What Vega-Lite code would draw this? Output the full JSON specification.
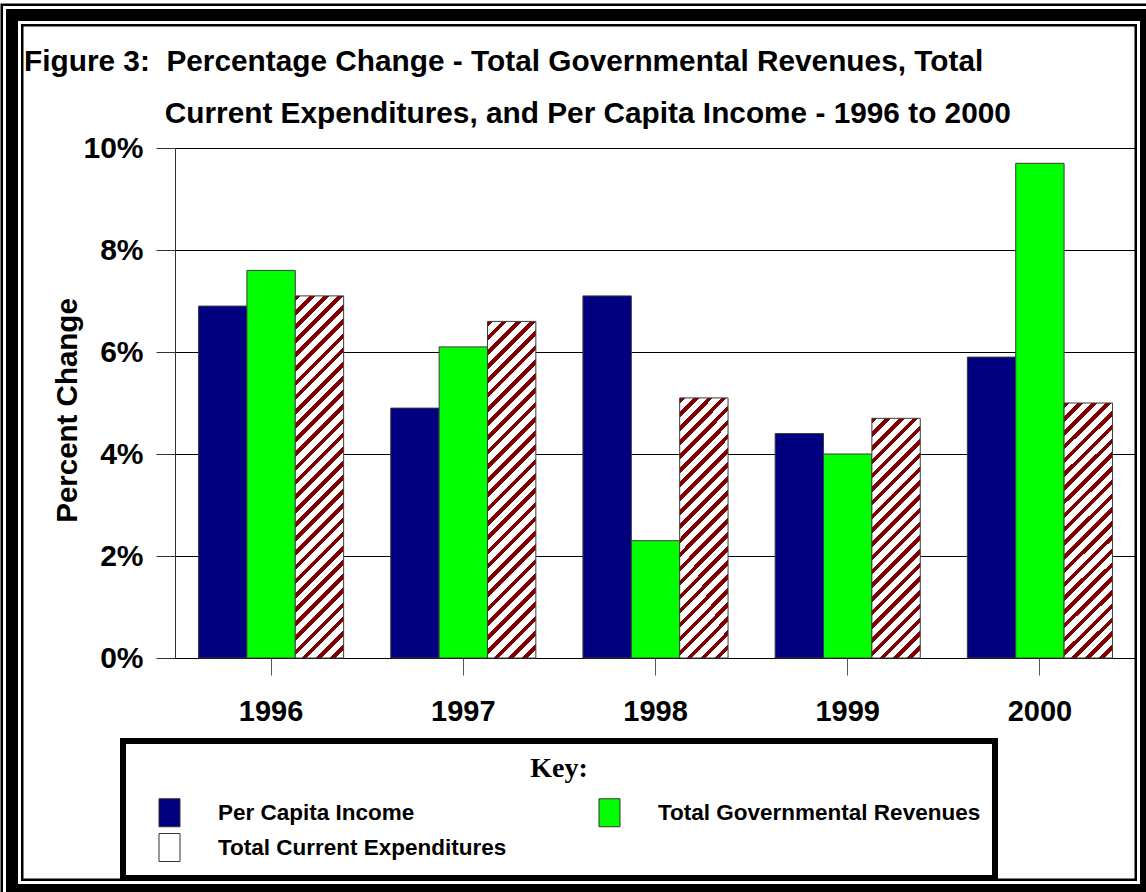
{
  "$schema": "https://vega.github.io/schema/vega-lite/v6.json",
  "width": 1134,
  "height": 875,
  "padding": {"left": 12, "top": 15, "right": 0, "bottom": 2},
  "autosize": {"type": "none"},
  "background": "white",
  "config": {
    "view": {"stroke": "black", "strokeWidth": 23, "fill": "white"},
    "font": "Liberation Sans",
    "axis": {"labelColor": "black", "titleColor": "black", "labelFont": "Liberation Sans", "titleFont": "Liberation Sans"}
  },
  "title": {
    "text": ["Figure 3:\u00a0 Percentage Change - Total Governmental Revenues, Total", "\u200b\u00a0\u00a0\u00a0\u00a0\u00a0\u00a0\u00a0\u00a0\u00a0\u00a0\u00a0\u00a0\u00a0\u00a0\u00a0\u00a0\u00a0Current Expenditures, and Per Capita Income - 1996 to 2000"],
    "anchor": "start",
    "frame": "group",
    "orient": "top",
    "offset": 0,
    "dx": 12,
    "dy": 123,
    "font": "Liberation Sans",
    "fontSize": 29.8,
    "fontWeight": "bold",
    "color": "black",
    "lineHeight": 52
  },
  "data": {
    "values": [
      {"year": "1996", "series": "Per Capita Income", "value": 6.9},
      {"year": "1996", "series": "Total Governmental Revenues", "value": 7.6},
      {"year": "1996", "series": "Total Current Expenditures", "value": 7.1},
      {"year": "1997", "series": "Per Capita Income", "value": 4.9},
      {"year": "1997", "series": "Total Governmental Revenues", "value": 6.1},
      {"year": "1997", "series": "Total Current Expenditures", "value": 6.6},
      {"year": "1998", "series": "Per Capita Income", "value": 7.1},
      {"year": "1998", "series": "Total Governmental Revenues", "value": 2.3},
      {"year": "1998", "series": "Total Current Expenditures", "value": 5.1},
      {"year": "1999", "series": "Per Capita Income", "value": 4.4},
      {"year": "1999", "series": "Total Governmental Revenues", "value": 4.0},
      {"year": "1999", "series": "Total Current Expenditures", "value": 4.7},
      {"year": "2000", "series": "Per Capita Income", "value": 5.9},
      {"year": "2000", "series": "Total Governmental Revenues", "value": 9.7},
      {"year": "2000", "series": "Total Current Expenditures", "value": 5.0}
    ]
  },
  "layer": [
    {
      "data": {"values": [{}]},
      "mark": {"type": "rect", "fill": "transparent", "stroke": "white", "strokeWidth": 18},
      "encoding": {}
    },
    {
      "data": {"values": [{}]},
      "mark": {"type": "rect", "fill": "transparent", "stroke": "black", "strokeWidth": 12},
      "encoding": {}
    },
    {
      "mark": {"type": "bar", "stroke": "#3a3a3a", "strokeWidth": 1},
      "encoding": {
        "x": {
          "field": "year", "type": "nominal",
          "scale": {"range": [163, 1124], "paddingInner": 0.245, "paddingOuter": 0.1225},
          "axis": {"orient": "bottom", "offset": -232, "title": null, "labelAngle": 0, "labelFontSize": 29, "labelFontWeight": "bold", "tickSize": 17, "tickColor": "#555555", "domainColor": "black", "labelPadding": 22, "grid": false}
        },
        "xOffset": {
          "field": "series", "type": "nominal",
          "sort": ["Per Capita Income", "Total Governmental Revenues", "Total Current Expenditures"],
          "scale": {"domain": ["Per Capita Income", "Total Governmental Revenues", "Total Current Expenditures"]}
        },
        "y": {
          "field": "value", "type": "quantitative",
          "scale": {"domain": [0, 10], "range": [643, 133], "nice": false},
          "axis": {"orient": "left", "offset": -163, "values": [0, 2, 4, 6, 8, 10], "labelExpr": "datum.value + '%'", "title": "Percent Change", "titleFontSize": 29.5, "titleFontWeight": "bold", "titlePadding": 0, "titleY": 395, "labelFontSize": 30, "labelFontWeight": "bold", "tickSize": 19, "tickColor": "#333333", "labelPadding": 13, "domainColor": "#333333", "grid": true, "gridColor": "black", "gridWidth": 1.2, "gridOpacity": 1}
        },
        "fill": {
          "field": "series", "type": "nominal",
          "scale": {"domain": ["Per Capita Income", "Total Governmental Revenues", "Total Current Expenditures"], "range": ["#000080", "#00ff00", "#ffffff"]},
          "legend": {
            "orient": "none",
            "legendX": 111,
            "legendY": 726,
            "direction": "horizontal",
            "columns": 2,
            "title": "Key:",
            "titleFont": "Liberation Serif",
            "titleFontSize": 28,
            "titleFontWeight": "bold",
            "titleColor": "black",
            "titleAnchor": "middle",
            "titlePadding": 15,
            "labelFont": "Liberation Sans",
            "labelFontSize": 22.5,
            "labelFontWeight": "bold",
            "labelColor": "black",
            "labelLimit": 500,
            "labelOffset": 34,
            "symbolType": "M-0.75,-1H0.75V1H-0.75Z",
            "symbolSize": 784,
            "symbolStrokeColor": "#333333",
            "symbolStrokeWidth": 1,
            "symbolOffset": 18,
            "columnPadding": 70,
            "rowPadding": 2,
            "padding": 14,
            "strokeColor": "black",
            "fillColor": "white",
            "encode": {
              "legend": {"update": {"strokeWidth": {"value": 6}}}
            }
          },
          "condition": [
            {"test": "datum.series === 'Total Current Expenditures' && datum.year === '1996'", "value": {"gradient": "linear", "x1": 0, "y1": 0, "x2": 0.14877, "y2": 1.11372, "stops": [
              {"offset": 0, "color": "#800000"}, {"offset": 0.01379, "color": "#800000"}, {"offset": 0.01379, "color": "#ffffff"}, {"offset": 0.03448, "color": "#ffffff"},
              {"offset": 0.03448, "color": "#800000"}, {"offset": 0.04828, "color": "#800000"}, {"offset": 0.04828, "color": "#ffffff"}, {"offset": 0.06897, "color": "#ffffff"},
              {"offset": 0.06897, "color": "#800000"}, {"offset": 0.08276, "color": "#800000"}, {"offset": 0.08276, "color": "#ffffff"}, {"offset": 0.10345, "color": "#ffffff"},
              {"offset": 0.10345, "color": "#800000"}, {"offset": 0.11724, "color": "#800000"}, {"offset": 0.11724, "color": "#ffffff"}, {"offset": 0.13793, "color": "#ffffff"},
              {"offset": 0.13793, "color": "#800000"}, {"offset": 0.15172, "color": "#800000"}, {"offset": 0.15172, "color": "#ffffff"}, {"offset": 0.17241, "color": "#ffffff"},
              {"offset": 0.17241, "color": "#800000"}, {"offset": 0.18621, "color": "#800000"}, {"offset": 0.18621, "color": "#ffffff"}, {"offset": 0.2069, "color": "#ffffff"},
              {"offset": 0.2069, "color": "#800000"}, {"offset": 0.22069, "color": "#800000"}, {"offset": 0.22069, "color": "#ffffff"}, {"offset": 0.24138, "color": "#ffffff"},
              {"offset": 0.24138, "color": "#800000"}, {"offset": 0.25517, "color": "#800000"}, {"offset": 0.25517, "color": "#ffffff"}, {"offset": 0.27586, "color": "#ffffff"},
              {"offset": 0.27586, "color": "#800000"}, {"offset": 0.28966, "color": "#800000"}, {"offset": 0.28966, "color": "#ffffff"}, {"offset": 0.31034, "color": "#ffffff"},
              {"offset": 0.31034, "color": "#800000"}, {"offset": 0.32414, "color": "#800000"}, {"offset": 0.32414, "color": "#ffffff"}, {"offset": 0.34483, "color": "#ffffff"},
              {"offset": 0.34483, "color": "#800000"}, {"offset": 0.35862, "color": "#800000"}, {"offset": 0.35862, "color": "#ffffff"}, {"offset": 0.37931, "color": "#ffffff"},
              {"offset": 0.37931, "color": "#800000"}, {"offset": 0.3931, "color": "#800000"}, {"offset": 0.3931, "color": "#ffffff"}, {"offset": 0.41379, "color": "#ffffff"},
              {"offset": 0.41379, "color": "#800000"}, {"offset": 0.42759, "color": "#800000"}, {"offset": 0.42759, "color": "#ffffff"}, {"offset": 0.44828, "color": "#ffffff"},
              {"offset": 0.44828, "color": "#800000"}, {"offset": 0.46207, "color": "#800000"}, {"offset": 0.46207, "color": "#ffffff"}, {"offset": 0.48276, "color": "#ffffff"},
              {"offset": 0.48276, "color": "#800000"}, {"offset": 0.49655, "color": "#800000"}, {"offset": 0.49655, "color": "#ffffff"}, {"offset": 0.51724, "color": "#ffffff"},
              {"offset": 0.51724, "color": "#800000"}, {"offset": 0.53103, "color": "#800000"}, {"offset": 0.53103, "color": "#ffffff"}, {"offset": 0.55172, "color": "#ffffff"},
              {"offset": 0.55172, "color": "#800000"}, {"offset": 0.56552, "color": "#800000"}, {"offset": 0.56552, "color": "#ffffff"}, {"offset": 0.58621, "color": "#ffffff"},
              {"offset": 0.58621, "color": "#800000"}, {"offset": 0.6, "color": "#800000"}, {"offset": 0.6, "color": "#ffffff"}, {"offset": 0.62069, "color": "#ffffff"},
              {"offset": 0.62069, "color": "#800000"}, {"offset": 0.63448, "color": "#800000"}, {"offset": 0.63448, "color": "#ffffff"}, {"offset": 0.65517, "color": "#ffffff"},
              {"offset": 0.65517, "color": "#800000"}, {"offset": 0.66897, "color": "#800000"}, {"offset": 0.66897, "color": "#ffffff"}, {"offset": 0.68966, "color": "#ffffff"},
              {"offset": 0.68966, "color": "#800000"}, {"offset": 0.70345, "color": "#800000"}, {"offset": 0.70345, "color": "#ffffff"}, {"offset": 0.72414, "color": "#ffffff"},
              {"offset": 0.72414, "color": "#800000"}, {"offset": 0.73793, "color": "#800000"}, {"offset": 0.73793, "color": "#ffffff"}, {"offset": 0.75862, "color": "#ffffff"},
              {"offset": 0.75862, "color": "#800000"}, {"offset": 0.77241, "color": "#800000"}, {"offset": 0.77241, "color": "#ffffff"}, {"offset": 0.7931, "color": "#ffffff"},
              {"offset": 0.7931, "color": "#800000"}, {"offset": 0.8069, "color": "#800000"}, {"offset": 0.8069, "color": "#ffffff"}, {"offset": 0.82759, "color": "#ffffff"},
              {"offset": 0.82759, "color": "#800000"}, {"offset": 0.84138, "color": "#800000"}, {"offset": 0.84138, "color": "#ffffff"}, {"offset": 0.86207, "color": "#ffffff"},
              {"offset": 0.86207, "color": "#800000"}, {"offset": 0.87586, "color": "#800000"}, {"offset": 0.87586, "color": "#ffffff"}, {"offset": 0.89655, "color": "#ffffff"},
              {"offset": 0.89655, "color": "#800000"}, {"offset": 0.91034, "color": "#800000"}, {"offset": 0.91034, "color": "#ffffff"}, {"offset": 0.93103, "color": "#ffffff"},
              {"offset": 0.93103, "color": "#800000"}, {"offset": 0.94483, "color": "#800000"}, {"offset": 0.94483, "color": "#ffffff"}, {"offset": 0.96552, "color": "#ffffff"},
              {"offset": 0.96552, "color": "#800000"}, {"offset": 0.97931, "color": "#800000"}, {"offset": 0.97931, "color": "#ffffff"}, {"offset": 1, "color": "#ffffff"}
            ]}},
            {"test": "datum.series === 'Total Current Expenditures' && datum.year === '1997'", "value": {"gradient": "linear", "x1": 0, "y1": 0, "x2": 0.16103, "y2": 1.12057, "stops": [
              {"offset": 0, "color": "#800000"}, {"offset": 0.01481, "color": "#800000"}, {"offset": 0.01481, "color": "#ffffff"}, {"offset": 0.03704, "color": "#ffffff"},
              {"offset": 0.03704, "color": "#800000"}, {"offset": 0.05185, "color": "#800000"}, {"offset": 0.05185, "color": "#ffffff"}, {"offset": 0.07407, "color": "#ffffff"},
              {"offset": 0.07407, "color": "#800000"}, {"offset": 0.08889, "color": "#800000"}, {"offset": 0.08889, "color": "#ffffff"}, {"offset": 0.11111, "color": "#ffffff"},
              {"offset": 0.11111, "color": "#800000"}, {"offset": 0.12593, "color": "#800000"}, {"offset": 0.12593, "color": "#ffffff"}, {"offset": 0.14815, "color": "#ffffff"},
              {"offset": 0.14815, "color": "#800000"}, {"offset": 0.16296, "color": "#800000"}, {"offset": 0.16296, "color": "#ffffff"}, {"offset": 0.18519, "color": "#ffffff"},
              {"offset": 0.18519, "color": "#800000"}, {"offset": 0.2, "color": "#800000"}, {"offset": 0.2, "color": "#ffffff"}, {"offset": 0.22222, "color": "#ffffff"},
              {"offset": 0.22222, "color": "#800000"}, {"offset": 0.23704, "color": "#800000"}, {"offset": 0.23704, "color": "#ffffff"}, {"offset": 0.25926, "color": "#ffffff"},
              {"offset": 0.25926, "color": "#800000"}, {"offset": 0.27407, "color": "#800000"}, {"offset": 0.27407, "color": "#ffffff"}, {"offset": 0.2963, "color": "#ffffff"},
              {"offset": 0.2963, "color": "#800000"}, {"offset": 0.31111, "color": "#800000"}, {"offset": 0.31111, "color": "#ffffff"}, {"offset": 0.33333, "color": "#ffffff"},
              {"offset": 0.33333, "color": "#800000"}, {"offset": 0.34815, "color": "#800000"}, {"offset": 0.34815, "color": "#ffffff"}, {"offset": 0.37037, "color": "#ffffff"},
              {"offset": 0.37037, "color": "#800000"}, {"offset": 0.38519, "color": "#800000"}, {"offset": 0.38519, "color": "#ffffff"}, {"offset": 0.40741, "color": "#ffffff"},
              {"offset": 0.40741, "color": "#800000"}, {"offset": 0.42222, "color": "#800000"}, {"offset": 0.42222, "color": "#ffffff"}, {"offset": 0.44444, "color": "#ffffff"},
              {"offset": 0.44444, "color": "#800000"}, {"offset": 0.45926, "color": "#800000"}, {"offset": 0.45926, "color": "#ffffff"}, {"offset": 0.48148, "color": "#ffffff"},
              {"offset": 0.48148, "color": "#800000"}, {"offset": 0.4963, "color": "#800000"}, {"offset": 0.4963, "color": "#ffffff"}, {"offset": 0.51852, "color": "#ffffff"},
              {"offset": 0.51852, "color": "#800000"}, {"offset": 0.53333, "color": "#800000"}, {"offset": 0.53333, "color": "#ffffff"}, {"offset": 0.55556, "color": "#ffffff"},
              {"offset": 0.55556, "color": "#800000"}, {"offset": 0.57037, "color": "#800000"}, {"offset": 0.57037, "color": "#ffffff"}, {"offset": 0.59259, "color": "#ffffff"},
              {"offset": 0.59259, "color": "#800000"}, {"offset": 0.60741, "color": "#800000"}, {"offset": 0.60741, "color": "#ffffff"}, {"offset": 0.62963, "color": "#ffffff"},
              {"offset": 0.62963, "color": "#800000"}, {"offset": 0.64444, "color": "#800000"}, {"offset": 0.64444, "color": "#ffffff"}, {"offset": 0.66667, "color": "#ffffff"},
              {"offset": 0.66667, "color": "#800000"}, {"offset": 0.68148, "color": "#800000"}, {"offset": 0.68148, "color": "#ffffff"}, {"offset": 0.7037, "color": "#ffffff"},
              {"offset": 0.7037, "color": "#800000"}, {"offset": 0.71852, "color": "#800000"}, {"offset": 0.71852, "color": "#ffffff"}, {"offset": 0.74074, "color": "#ffffff"},
              {"offset": 0.74074, "color": "#800000"}, {"offset": 0.75556, "color": "#800000"}, {"offset": 0.75556, "color": "#ffffff"}, {"offset": 0.77778, "color": "#ffffff"},
              {"offset": 0.77778, "color": "#800000"}, {"offset": 0.79259, "color": "#800000"}, {"offset": 0.79259, "color": "#ffffff"}, {"offset": 0.81481, "color": "#ffffff"},
              {"offset": 0.81481, "color": "#800000"}, {"offset": 0.82963, "color": "#800000"}, {"offset": 0.82963, "color": "#ffffff"}, {"offset": 0.85185, "color": "#ffffff"},
              {"offset": 0.85185, "color": "#800000"}, {"offset": 0.86667, "color": "#800000"}, {"offset": 0.86667, "color": "#ffffff"}, {"offset": 0.88889, "color": "#ffffff"},
              {"offset": 0.88889, "color": "#800000"}, {"offset": 0.9037, "color": "#800000"}, {"offset": 0.9037, "color": "#ffffff"}, {"offset": 0.92593, "color": "#ffffff"},
              {"offset": 0.92593, "color": "#800000"}, {"offset": 0.94074, "color": "#800000"}, {"offset": 0.94074, "color": "#ffffff"}, {"offset": 0.96296, "color": "#ffffff"},
              {"offset": 0.96296, "color": "#800000"}, {"offset": 0.97778, "color": "#800000"}, {"offset": 0.97778, "color": "#ffffff"}, {"offset": 1, "color": "#ffffff"}
            ]}},
            {"test": "datum.series === 'Total Current Expenditures' && (datum.year === '1998' || datum.year === '2000')", "value": {"gradient": "linear", "x1": 0, "y1": 0, "x2": 0.2155, "y2": 1.1473, "stops": [
              {"offset": 0, "color": "#800000"}, {"offset": 0.01818, "color": "#800000"}, {"offset": 0.01818, "color": "#ffffff"}, {"offset": 0.04545, "color": "#ffffff"},
              {"offset": 0.04545, "color": "#800000"}, {"offset": 0.06364, "color": "#800000"}, {"offset": 0.06364, "color": "#ffffff"}, {"offset": 0.09091, "color": "#ffffff"},
              {"offset": 0.09091, "color": "#800000"}, {"offset": 0.10909, "color": "#800000"}, {"offset": 0.10909, "color": "#ffffff"}, {"offset": 0.13636, "color": "#ffffff"},
              {"offset": 0.13636, "color": "#800000"}, {"offset": 0.15455, "color": "#800000"}, {"offset": 0.15455, "color": "#ffffff"}, {"offset": 0.18182, "color": "#ffffff"},
              {"offset": 0.18182, "color": "#800000"}, {"offset": 0.2, "color": "#800000"}, {"offset": 0.2, "color": "#ffffff"}, {"offset": 0.22727, "color": "#ffffff"},
              {"offset": 0.22727, "color": "#800000"}, {"offset": 0.24545, "color": "#800000"}, {"offset": 0.24545, "color": "#ffffff"}, {"offset": 0.27273, "color": "#ffffff"},
              {"offset": 0.27273, "color": "#800000"}, {"offset": 0.29091, "color": "#800000"}, {"offset": 0.29091, "color": "#ffffff"}, {"offset": 0.31818, "color": "#ffffff"},
              {"offset": 0.31818, "color": "#800000"}, {"offset": 0.33636, "color": "#800000"}, {"offset": 0.33636, "color": "#ffffff"}, {"offset": 0.36364, "color": "#ffffff"},
              {"offset": 0.36364, "color": "#800000"}, {"offset": 0.38182, "color": "#800000"}, {"offset": 0.38182, "color": "#ffffff"}, {"offset": 0.40909, "color": "#ffffff"},
              {"offset": 0.40909, "color": "#800000"}, {"offset": 0.42727, "color": "#800000"}, {"offset": 0.42727, "color": "#ffffff"}, {"offset": 0.45455, "color": "#ffffff"},
              {"offset": 0.45455, "color": "#800000"}, {"offset": 0.47273, "color": "#800000"}, {"offset": 0.47273, "color": "#ffffff"}, {"offset": 0.5, "color": "#ffffff"},
              {"offset": 0.5, "color": "#800000"}, {"offset": 0.51818, "color": "#800000"}, {"offset": 0.51818, "color": "#ffffff"}, {"offset": 0.54545, "color": "#ffffff"},
              {"offset": 0.54545, "color": "#800000"}, {"offset": 0.56364, "color": "#800000"}, {"offset": 0.56364, "color": "#ffffff"}, {"offset": 0.59091, "color": "#ffffff"},
              {"offset": 0.59091, "color": "#800000"}, {"offset": 0.60909, "color": "#800000"}, {"offset": 0.60909, "color": "#ffffff"}, {"offset": 0.63636, "color": "#ffffff"},
              {"offset": 0.63636, "color": "#800000"}, {"offset": 0.65455, "color": "#800000"}, {"offset": 0.65455, "color": "#ffffff"}, {"offset": 0.68182, "color": "#ffffff"},
              {"offset": 0.68182, "color": "#800000"}, {"offset": 0.7, "color": "#800000"}, {"offset": 0.7, "color": "#ffffff"}, {"offset": 0.72727, "color": "#ffffff"},
              {"offset": 0.72727, "color": "#800000"}, {"offset": 0.74545, "color": "#800000"}, {"offset": 0.74545, "color": "#ffffff"}, {"offset": 0.77273, "color": "#ffffff"},
              {"offset": 0.77273, "color": "#800000"}, {"offset": 0.79091, "color": "#800000"}, {"offset": 0.79091, "color": "#ffffff"}, {"offset": 0.81818, "color": "#ffffff"},
              {"offset": 0.81818, "color": "#800000"}, {"offset": 0.83636, "color": "#800000"}, {"offset": 0.83636, "color": "#ffffff"}, {"offset": 0.86364, "color": "#ffffff"},
              {"offset": 0.86364, "color": "#800000"}, {"offset": 0.88182, "color": "#800000"}, {"offset": 0.88182, "color": "#ffffff"}, {"offset": 0.90909, "color": "#ffffff"},
              {"offset": 0.90909, "color": "#800000"}, {"offset": 0.92727, "color": "#800000"}, {"offset": 0.92727, "color": "#ffffff"}, {"offset": 0.95455, "color": "#ffffff"},
              {"offset": 0.95455, "color": "#800000"}, {"offset": 0.97273, "color": "#800000"}, {"offset": 0.97273, "color": "#ffffff"}, {"offset": 1, "color": "#ffffff"}
            ]}},
            {"test": "datum.series === 'Total Current Expenditures' && datum.year === '1999'", "value": {"gradient": "linear", "x1": 0, "y1": 0, "x2": 0.23303, "y2": 1.15476, "stops": [
              {"offset": 0, "color": "#800000"}, {"offset": 0.01905, "color": "#800000"}, {"offset": 0.01905, "color": "#ffffff"}, {"offset": 0.04762, "color": "#ffffff"},
              {"offset": 0.04762, "color": "#800000"}, {"offset": 0.06667, "color": "#800000"}, {"offset": 0.06667, "color": "#ffffff"}, {"offset": 0.09524, "color": "#ffffff"},
              {"offset": 0.09524, "color": "#800000"}, {"offset": 0.11429, "color": "#800000"}, {"offset": 0.11429, "color": "#ffffff"}, {"offset": 0.14286, "color": "#ffffff"},
              {"offset": 0.14286, "color": "#800000"}, {"offset": 0.1619, "color": "#800000"}, {"offset": 0.1619, "color": "#ffffff"}, {"offset": 0.19048, "color": "#ffffff"},
              {"offset": 0.19048, "color": "#800000"}, {"offset": 0.20952, "color": "#800000"}, {"offset": 0.20952, "color": "#ffffff"}, {"offset": 0.2381, "color": "#ffffff"},
              {"offset": 0.2381, "color": "#800000"}, {"offset": 0.25714, "color": "#800000"}, {"offset": 0.25714, "color": "#ffffff"}, {"offset": 0.28571, "color": "#ffffff"},
              {"offset": 0.28571, "color": "#800000"}, {"offset": 0.30476, "color": "#800000"}, {"offset": 0.30476, "color": "#ffffff"}, {"offset": 0.33333, "color": "#ffffff"},
              {"offset": 0.33333, "color": "#800000"}, {"offset": 0.35238, "color": "#800000"}, {"offset": 0.35238, "color": "#ffffff"}, {"offset": 0.38095, "color": "#ffffff"},
              {"offset": 0.38095, "color": "#800000"}, {"offset": 0.4, "color": "#800000"}, {"offset": 0.4, "color": "#ffffff"}, {"offset": 0.42857, "color": "#ffffff"},
              {"offset": 0.42857, "color": "#800000"}, {"offset": 0.44762, "color": "#800000"}, {"offset": 0.44762, "color": "#ffffff"}, {"offset": 0.47619, "color": "#ffffff"},
              {"offset": 0.47619, "color": "#800000"}, {"offset": 0.49524, "color": "#800000"}, {"offset": 0.49524, "color": "#ffffff"}, {"offset": 0.52381, "color": "#ffffff"},
              {"offset": 0.52381, "color": "#800000"}, {"offset": 0.54286, "color": "#800000"}, {"offset": 0.54286, "color": "#ffffff"}, {"offset": 0.57143, "color": "#ffffff"},
              {"offset": 0.57143, "color": "#800000"}, {"offset": 0.59048, "color": "#800000"}, {"offset": 0.59048, "color": "#ffffff"}, {"offset": 0.61905, "color": "#ffffff"},
              {"offset": 0.61905, "color": "#800000"}, {"offset": 0.6381, "color": "#800000"}, {"offset": 0.6381, "color": "#ffffff"}, {"offset": 0.66667, "color": "#ffffff"},
              {"offset": 0.66667, "color": "#800000"}, {"offset": 0.68571, "color": "#800000"}, {"offset": 0.68571, "color": "#ffffff"}, {"offset": 0.71429, "color": "#ffffff"},
              {"offset": 0.71429, "color": "#800000"}, {"offset": 0.73333, "color": "#800000"}, {"offset": 0.73333, "color": "#ffffff"}, {"offset": 0.7619, "color": "#ffffff"},
              {"offset": 0.7619, "color": "#800000"}, {"offset": 0.78095, "color": "#800000"}, {"offset": 0.78095, "color": "#ffffff"}, {"offset": 0.80952, "color": "#ffffff"},
              {"offset": 0.80952, "color": "#800000"}, {"offset": 0.82857, "color": "#800000"}, {"offset": 0.82857, "color": "#ffffff"}, {"offset": 0.85714, "color": "#ffffff"},
              {"offset": 0.85714, "color": "#800000"}, {"offset": 0.87619, "color": "#800000"}, {"offset": 0.87619, "color": "#ffffff"}, {"offset": 0.90476, "color": "#ffffff"},
              {"offset": 0.90476, "color": "#800000"}, {"offset": 0.92381, "color": "#800000"}, {"offset": 0.92381, "color": "#ffffff"}, {"offset": 0.95238, "color": "#ffffff"},
              {"offset": 0.95238, "color": "#800000"}, {"offset": 0.97143, "color": "#800000"}, {"offset": 0.97143, "color": "#ffffff"}, {"offset": 1, "color": "#ffffff"}
            ]}}
          ]
        }
      }
    }
  ]
}
